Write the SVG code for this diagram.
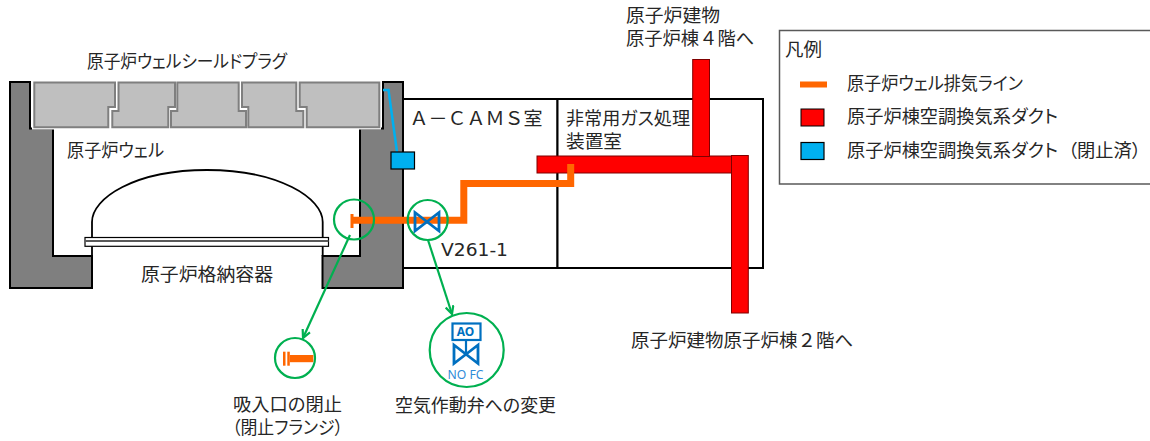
<svg xmlns="http://www.w3.org/2000/svg" width="1150" height="441" viewBox="0 0 1150 441">
<defs>
<style>
text{font-family:"Noto Sans CJK JP","Noto Sans",sans-serif;font-size:18px;fill:#262626;font-feature-settings:"palt"}
.fw{font-feature-settings:normal}
.lat{font-family:"DejaVu Sans",sans-serif;font-size:18px}
.wall{fill:#7f7f7f;stroke:#000;stroke-width:2;stroke-linejoin:miter}
.plug{fill:#bfbfbf;stroke:#7f7f7f;stroke-width:2}
.room{fill:#fff;stroke:#000;stroke-width:2}
.duct{fill:#f00;stroke:#7f0000;stroke-width:1}
.closed{fill:#00b0f0;stroke:#000;stroke-width:1.2}
.pipe{fill:none;stroke:#f60;stroke-width:7}
.ring{fill:none;stroke:#00b050;stroke-width:2.200}
.lead{fill:none;stroke:#00b050;stroke-width:2.200;marker-end:url(#arr)}
.valve{fill:none;stroke:#0070c0;stroke-width:2.800}
</style>
<marker id="arr" markerUnits="userSpaceOnUse" markerWidth="10" markerHeight="10" refX="9" refY="5" orient="auto">
<path d="M1 1 L9 5 L1 9" fill="none" stroke="#00b050" stroke-width="2.200"/>
</marker>
</defs>
<g id="rooms">
<rect class="room" x="403" y="99" width="154.500" height="169"/>
<rect class="room" x="557.500" y="99" width="205.500" height="169"/>
</g>
<g id="well-walls">
<path class="wall" d="M10 82H30V128.500H53V256H92V288H10Z"/>
<path class="wall" d="M403 82H383V128.500H360V256H322.500V288H403Z"/>
</g>
<g id="shield-plug">
<rect x="32" y="81" width="349" height="48.500" fill="#fff"/>
<path class="plug" d="M34.300 82.500H115V107H108.300V127.300H34.300Z"/>
<path class="plug" d="M118.500 82.500H175V107H168.300V127.300H112.300V111H118.500Z"/>
<path class="plug" d="M177.300 82.500H238.700V111H246V127.300H171V111H177.300Z"/>
<path class="plug" d="M242 82.500H296.300V111H303.300V127.300H248.300V107H242Z"/>
<path class="plug" d="M299.700 82.500H379.300V127.300H306.700V107H299.700Z"/>
</g>
<g id="containment">
<path d="M92 256V222C92 198 135 170 207 170S322.700 198 322.700 222V256" fill="none" stroke="#000" stroke-width="1.800"/>
<rect x="85" y="237.500" width="243.500" height="8.800" fill="#fff" stroke="#000" stroke-width="1.200"/>
<line x1="85" y1="241" x2="328.500" y2="241" stroke="#595959" stroke-width="2"/>
</g>
<g id="ducts">
<rect class="duct" x="537" y="156" width="196" height="17"/>
<rect class="duct" x="692.700" y="59.500" width="16.800" height="97"/>
<rect class="duct" x="731.500" y="155.500" width="16.800" height="157.500"/>
</g>
<g id="closed-duct">
<path d="M383 90H388.500L397 152" fill="none" stroke="#00b0f0" stroke-width="2.500"/>
<rect class="closed" x="391" y="152" width="23.500" height="17"/>
</g>
<g id="exhaust-line">
<path class="pipe" d="M352 220.300H463.800V180M463.800 183.500H570.700V164"/>
<rect x="350.500" y="214" width="3" height="14" fill="#f60"/>
</g>
<g id="valve-v261">
<path class="valve" d="M415 212.500V231L439 212.500V231Z"/>
</g>
<g id="connectors">
<circle class="ring" cx="354" cy="219.500" r="20"/>
<circle class="ring" cx="427.700" cy="220" r="20"/>
<path class="lead" d="M350 235L303 338"/>
<path class="lead" d="M428 240L452 314"/>
</g>
<g id="flange-detail">
<circle class="ring" cx="295" cy="358" r="20"/>
<rect x="283" y="351.700" width="2.500" height="14" fill="#f60"/>
<rect x="287.300" y="351.700" width="2.500" height="14" fill="#f60"/>
<rect x="289.800" y="355" width="23.500" height="7.200" fill="#f60"/>
</g>
<g id="valve-detail">
<circle class="ring" cx="466.700" cy="350" r="37"/>
<rect x="452.500" y="323.500" width="28" height="16.500" fill="#fff" stroke="#0070c0" stroke-width="2.200"/>
<text x="465.500" y="336" text-anchor="middle" style="font-family:'Noto Sans',sans-serif;font-size:12px;font-weight:700;fill:#0070c0">AO</text>
<line x1="466" y1="340" x2="466" y2="354" stroke="#0070c0" stroke-width="2.200"/>
<path class="valve" d="M454 345V363.500L478 345V363.500Z"/>
<text x="465.500" y="379" text-anchor="middle" textLength="36" lengthAdjust="spacingAndGlyphs" style="font-family:'Noto Sans',sans-serif;font-size:12.500px;fill:#2f8bd8">NO FC</text>
</g>
<g id="legend">
<rect x="779.500" y="30.500" width="380" height="153.500" fill="#fff" stroke="#595959" stroke-width="1.500"/>
<text x="785" y="56" textLength="37" lengthAdjust="spacingAndGlyphs">凡例</text>
<rect x="800" y="81.500" width="27" height="6" fill="#f60"/>
<text x="847" y="90" textLength="176" lengthAdjust="spacingAndGlyphs">原子炉ウェル排気ライン</text>
<rect class="duct" x="801" y="109" width="23" height="17" style="stroke:#000"/>
<text x="847" y="123" textLength="211" lengthAdjust="spacingAndGlyphs">原子炉棟空調換気系ダクト</text>
<rect class="closed" x="801" y="142.500" width="23" height="17"/>
<text x="847" y="157"><tspan textLength="211" lengthAdjust="spacingAndGlyphs">原子炉棟空調換気系ダクト</tspan><tspan x="1068" textLength="73" lengthAdjust="spacingAndGlyphs">（閉止済）</tspan></text>
</g>
<g id="labels">
<text x="87" y="68" textLength="200" lengthAdjust="spacingAndGlyphs">原子炉ウェルシールドプラグ</text>
<text x="67" y="157" textLength="97" lengthAdjust="spacingAndGlyphs">原子炉ウェル</text>
<text x="141" y="281" textLength="132" lengthAdjust="spacingAndGlyphs">原子炉格納容器</text>
<text x="409.500" y="125" class="fw" textLength="133" lengthAdjust="spacingAndGlyphs">Ａ－ＣＡＭＳ室</text>
<text x="566" y="125" textLength="124" lengthAdjust="spacingAndGlyphs">非常用ガス処理</text>
<text x="566" y="148" textLength="56" lengthAdjust="spacingAndGlyphs">装置室</text>
<text x="441" y="256" class="lat" textLength="67" lengthAdjust="spacingAndGlyphs">V261-1</text>
<text x="626" y="22" textLength="94" lengthAdjust="spacingAndGlyphs">原子炉建物</text>
<text x="626" y="45" class="fw" textLength="128" lengthAdjust="spacingAndGlyphs">原子炉棟４階へ</text>
<text x="631" y="347" class="fw" textLength="222" lengthAdjust="spacingAndGlyphs">原子炉建物原子炉棟２階へ</text>
<text x="233" y="411" textLength="109" lengthAdjust="spacingAndGlyphs">吸入口の閉止</text>
<text x="232" y="434" textLength="111" lengthAdjust="spacingAndGlyphs">（閉止フランジ）</text>
<text x="395" y="412" textLength="161" lengthAdjust="spacingAndGlyphs">空気作動弁への変更</text>
</g>
</svg>
